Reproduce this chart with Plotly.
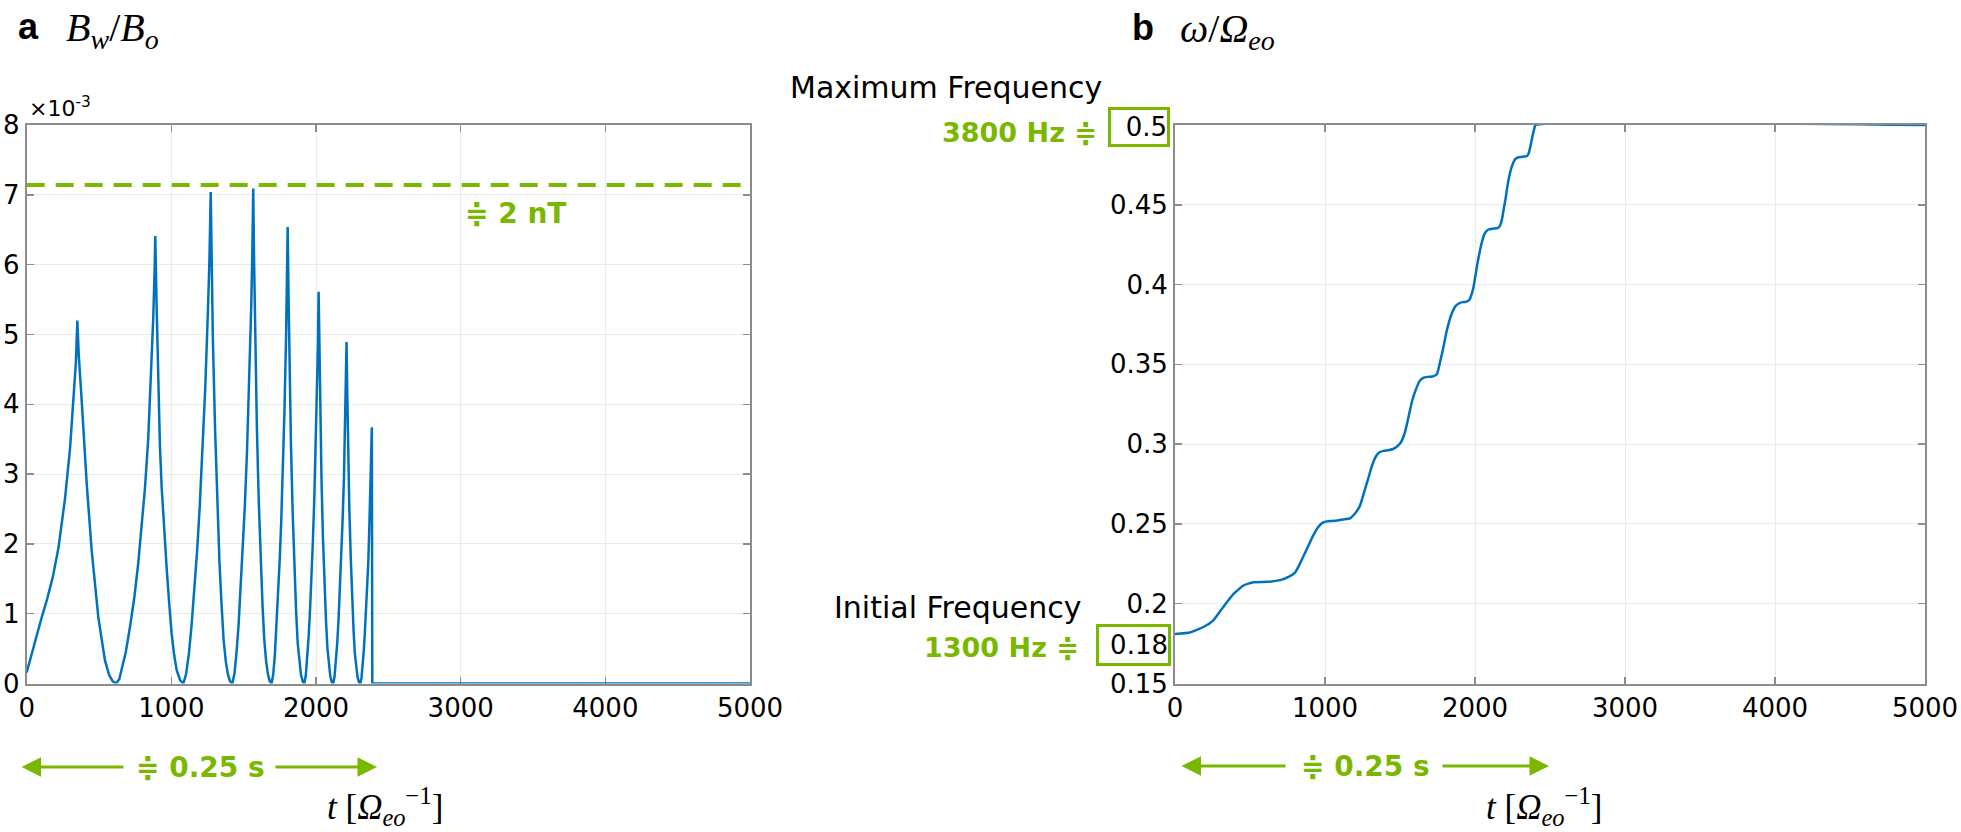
import plotly.graph_objects as go

# ---------------- data ----------------
# panel a : B_w / B_o  (x 1e-3)
b_t = [0, 30, 60, 100, 140, 180, 220, 265, 300, 325, 340, 350, 360, 380, 415, 449, 495, 541, 570, 595, 617,
       640, 656, 685, 714, 745, 771, 795, 818, 840, 852, 866, 875, 884, 889,
       897, 910, 921, 933, 950, 967, 985, 1002, 1020, 1037, 1060, 1083,
       1102, 1121, 1140, 1159, 1178, 1196, 1215, 1234, 1253, 1263, 1272,
       1279, 1287, 1302, 1317, 1332, 1347, 1361, 1376, 1391, 1406, 1421,
       1436, 1450, 1465, 1479, 1494, 1508, 1523, 1537, 1552, 1559, 1566,
       1572, 1579, 1591, 1604, 1617, 1630, 1642, 1655, 1668, 1680, 1693,
       1704, 1715, 1726, 1737, 1749, 1760, 1771, 1782, 1793, 1798, 1804,
       1810, 1816, 1827, 1839, 1850, 1862, 1873, 1885, 1896, 1908, 1919,
       1929, 1939, 1949, 1959, 1969, 1978, 1988, 1998, 2008, 2013, 2018,
       2023, 2028, 2038, 2048, 2058, 2069, 2079, 2089, 2099, 2109, 2119,
       2128, 2137, 2147, 2156, 2165, 2174, 2183, 2193, 2202, 2206, 2211,
       2216, 2221, 2230, 2240, 2249, 2259, 2268, 2278, 2287, 2297, 2306,
       2314, 2322, 2329, 2337, 2345, 2353, 2361, 2368, 2376, 2380, 2386,
       2389, 5000]
b_val = [0.16, 0.40, 0.64, 0.92, 1.20, 1.52, 1.95, 2.65, 3.38, 4.10, 4.60, 5.20, 4.70, 4.06, 2.86, 1.91, 0.95, 0.33, 0.12, 0.03, 0.0,
         0.06, 0.19, 0.45, 0.81, 1.25, 1.72, 2.25, 2.81, 3.50, 4.06, 4.70, 5.25, 5.90, 6.41,
         5.50, 4.06, 3.40, 2.81, 2.20, 1.67, 1.15, 0.71, 0.40, 0.19, 0.05, 0.0,
         0.14, 0.42, 0.84, 1.34, 1.90, 2.53, 3.31, 4.22, 5.35, 6.05, 7.04,
         5.98, 4.93, 3.66, 2.60, 1.76, 1.13, 0.63, 0.32, 0.13, 0.03, 0.0,
         0.14, 0.43, 0.85, 1.35, 1.91, 2.55, 3.33, 4.25, 5.39, 6.10, 7.09,
         6.03, 4.96, 3.69, 2.62, 1.77, 1.13, 0.64, 0.32, 0.13, 0.03, 0.0,
         0.13, 0.39, 0.78, 1.24, 1.77, 2.35, 3.07, 3.92, 4.97, 5.62, 6.54,
         5.56, 4.58, 3.40, 2.42, 1.64, 1.05, 0.59, 0.29, 0.12, 0.03, 0.0,
         0.11, 0.34, 0.67, 1.07, 1.51, 2.02, 2.64, 3.37, 4.26, 4.82, 5.61,
         4.77, 3.93, 2.92, 2.08, 1.40, 0.90, 0.50, 0.25, 0.10, 0.02, 0.0,
         0.10, 0.29, 0.59, 0.93, 1.32, 1.76, 2.30, 2.93, 3.72, 4.21, 4.89,
         4.16, 3.42, 2.54, 1.81, 1.22, 0.78, 0.44, 0.22, 0.09, 0.02, 0.0,
         0.07, 0.22, 0.44, 0.70, 0.99, 1.32, 1.72, 2.20, 2.79, 3.16, 3.67,
         0.0, 0.0]
b_limit_level = 7.14          # dashed "≑ 2 nT" level (x 1e-3)

# panel b : omega / Omega_eo
w_t = [0, 100, 189, 256, 322, 389, 456, 522, 617,
       700, 760, 800, 830, 860, 890, 920, 950, 980, 1011, 1050, 1083,
       1120, 1167, 1200, 1233, 1255, 1272, 1290, 1310, 1335, 1360, 1390, 1421,
       1450, 1480, 1505, 1530, 1550, 1566, 1582, 1605, 1630, 1655, 1693,
       1720, 1747, 1771, 1790, 1809, 1828, 1847, 1870, 1900, 1919,
       1940, 1962, 1987, 2000, 2013, 2026, 2039, 2064, 2089, 2119,
       2150, 2167, 2180, 2191, 2204, 2216, 2229, 2242, 2268, 2290, 2306,
       2330, 2345, 2357, 2368, 2378, 2388, 2396, 2403, 5000]
w_val = [0.181, 0.182, 0.1854, 0.1896, 0.198, 0.206, 0.2114, 0.2135, 0.2137,
         0.2148, 0.2170, 0.2195, 0.2245, 0.2305, 0.2365, 0.2425, 0.2475, 0.2505, 0.2516, 0.2519, 0.2522,
         0.2528, 0.2535, 0.2565, 0.2614, 0.2680, 0.2735, 0.2790, 0.2855, 0.2915, 0.2948, 0.2958, 0.2962,
         0.2968, 0.2985, 0.3010, 0.3065, 0.3140, 0.3210, 0.3275, 0.3340, 0.3395, 0.3416, 0.3422,
         0.3425, 0.3440, 0.3530, 0.3610, 0.3700, 0.3770, 0.3823, 0.3865, 0.3885, 0.3890,
         0.3892, 0.3905, 0.3970, 0.4040, 0.4115, 0.4180, 0.4240, 0.4320, 0.4345, 0.4350,
         0.4353, 0.4370, 0.4410, 0.4470, 0.4540, 0.4615, 0.4680, 0.4730, 0.4786, 0.4798, 0.4800,
         0.4802, 0.4805, 0.4820, 0.4860, 0.4906, 0.4950, 0.4980, 0.5000, 0.5000]
assert len(b_t) == len(b_val) and len(w_t) == len(w_val)

x_ticks = [0, 1000, 2000, 3000, 4000, 5000]
a_y_ticks = [0, 1, 2, 3, 4, 5, 6, 7, 8]
b_y_ticks = [0.15, 0.2, 0.25, 0.3, 0.35, 0.4, 0.45, 0.5]
b_y_ticktext = ["0.15", "0.2", "0.25", "0.3", "0.35", "0.4", "0.45", ""]

# ---------------- styling ----------------
W, H = 1961, 832
BLUE = "#0072BD"
GREEN = "#7AB800"
AXC = "#8c8c8c"


def px(x):
    return x / W


def py(y):
    return 1 - y / H


left_dom = [px(26.7), px(750)]
right_dom = [px(1175), px(1925)]
y_dom = [py(683.5), py(125)]

fig = go.Figure()
fig.add_trace(go.Scatter(x=b_t, y=b_val, mode="lines", line=dict(color=BLUE, width=2.5),
                         xaxis="x", yaxis="y", showlegend=False, hoverinfo="skip"))
fig.add_trace(go.Scatter(x=[x_ticks[0], x_ticks[-1]], y=[b_limit_level, b_limit_level], mode="lines",
                         line=dict(color=GREEN, width=4, dash="18px,11px"),
                         xaxis="x", yaxis="y", showlegend=False, hoverinfo="skip"))
fig.add_trace(go.Scatter(x=w_t, y=w_val, mode="lines",
                         line=dict(color=BLUE, width=2.5, shape="spline", smoothing=0.4),
                         xaxis="x2", yaxis="y2", showlegend=False, hoverinfo="skip"))

axis_common = dict(showline=True, linecolor=AXC, linewidth=2, mirror="allticks",
                   ticks="inside", ticklen=7, tickwidth=1.5, tickcolor=AXC,
                   showgrid=True, gridcolor="#ebebeb", gridwidth=1, zeroline=False,
                   tickfont=dict(family="DejaVu Sans", size=26, color="black"),
                   layer="below traces", fixedrange=True, automargin=False)

fig.update_layout(
    width=W, height=H, margin=dict(l=0, r=0, t=0, b=0, autoexpand=False),
    paper_bgcolor="white", plot_bgcolor="white",
    xaxis=dict(domain=left_dom, range=[0, 5000], tickvals=x_ticks, anchor="y", **axis_common),
    yaxis=dict(domain=y_dom, range=[0, 8], tickvals=a_y_ticks, anchor="x", **axis_common),
    xaxis2=dict(domain=right_dom, range=[0, 5000], tickvals=x_ticks, anchor="y2", **axis_common),
    yaxis2=dict(domain=y_dom, range=[0.15, 0.5], tickvals=b_y_ticks, ticktext=b_y_ticktext,
                anchor="x2", **axis_common),
)

ann = []
SANS = "DejaVu Sans"
BOLD = "DejaVu Sans"
SERIF = "Liberation Serif"


def text(x, y, t, size, family=SANS, color="black", xanchor="left", **kw):
    ann.append(dict(x=px(x), y=py(y), xref="paper", yref="paper", text=t, showarrow=False,
                    xanchor=xanchor, yanchor="middle",
                    font=dict(family=family, size=size, color=color), **kw))


# panel labels
text(16, 26, "<b>a</b>", 36, family="Liberation Sans")
text(64, 30, "<i>B</i><sub><i>w</i></sub>/<i>B</i><sub><i>o</i></sub>", 40, family=SERIF)
text(1130, 27, "<b>b</b>", 36, family="Liberation Sans")
text(1178, 31, "<i>ω</i>/<i>Ω</i><sub><i>eo</i></sub>", 40, family=SERIF)

# exponent
text(27, 107, "×10<sup>-3</sup>", 22)

# 2 nT label
text(515, 213, "<b>≑ 2 nT</b>", 28, family=BOLD, color=GREEN, xanchor="center")

# frequency labels
text(1104, 88, "Maximum Frequency", 30, xanchor="right")
text(1099, 132, "<b>3800 Hz ≑</b>", 27, family=BOLD, color=GREEN, xanchor="right")
text(1084, 607, "Initial Frequency", 30, xanchor="right")
text(1081, 647, "<b>1300 Hz ≑</b>", 27, family=BOLD, color=GREEN, xanchor="right")

# boxed tick labels
ann.append(dict(x=px(1139), y=py(127), xref="paper", yref="paper", text="0.5", showarrow=False,
                xanchor="center", yanchor="middle", width=56, height=34, align="right",
                borderpad=0, bordercolor=GREEN, borderwidth=3,
                font=dict(family=SANS, size=26, color="black")))
ann.append(dict(x=px(1133.5), y=py(645), xref="paper", yref="paper", text="0.18", showarrow=False,
                xanchor="center", yanchor="middle", width=69, height=36, align="right",
                borderpad=0, bordercolor=GREEN, borderwidth=3,
                font=dict(family=SANS, size=26, color="black")))


# time-span arrows
def arrows(tip_l, end_l, start_r, tip_r, mid, y):
    for tip, tail in ((tip_l, end_l), (tip_r, start_r)):
        ann.append(dict(x=px(tip), y=py(y), xref="paper", yref="paper", text="", showarrow=True,
                        ax=tail - tip, ay=0, axref="pixel", ayref="pixel",
                        arrowhead=2, arrowsize=1.3, arrowwidth=3, arrowcolor=GREEN, standoff=0))
    text(mid, y, "<b>≑ 0.25 s</b>", 28, family=BOLD, color=GREEN, xanchor="center")


arrows(21.5, 125, 274, 377, 200, 767)
arrows(1181.5, 1287, 1441, 1549, 1365, 766)

# axis titles
text(385, 806, "<i>t</i> [<i>Ω</i><sub><i>eo</i></sub><sup>−1</sup>]", 35, family=SERIF, xanchor="center")
text(1544, 806, "<i>t</i> [<i>Ω</i><sub><i>eo</i></sub><sup>−1</sup>]", 35, family=SERIF, xanchor="center")

fig.update_layout(annotations=ann)
fig.write_html(
    "out.html",
    config={"displayModeBar": False, "staticPlot": True},
    post_script="document.body.style.margin='0';document.body.style.overflow='hidden';"
                "document.documentElement.style.overflow='hidden';",
)
